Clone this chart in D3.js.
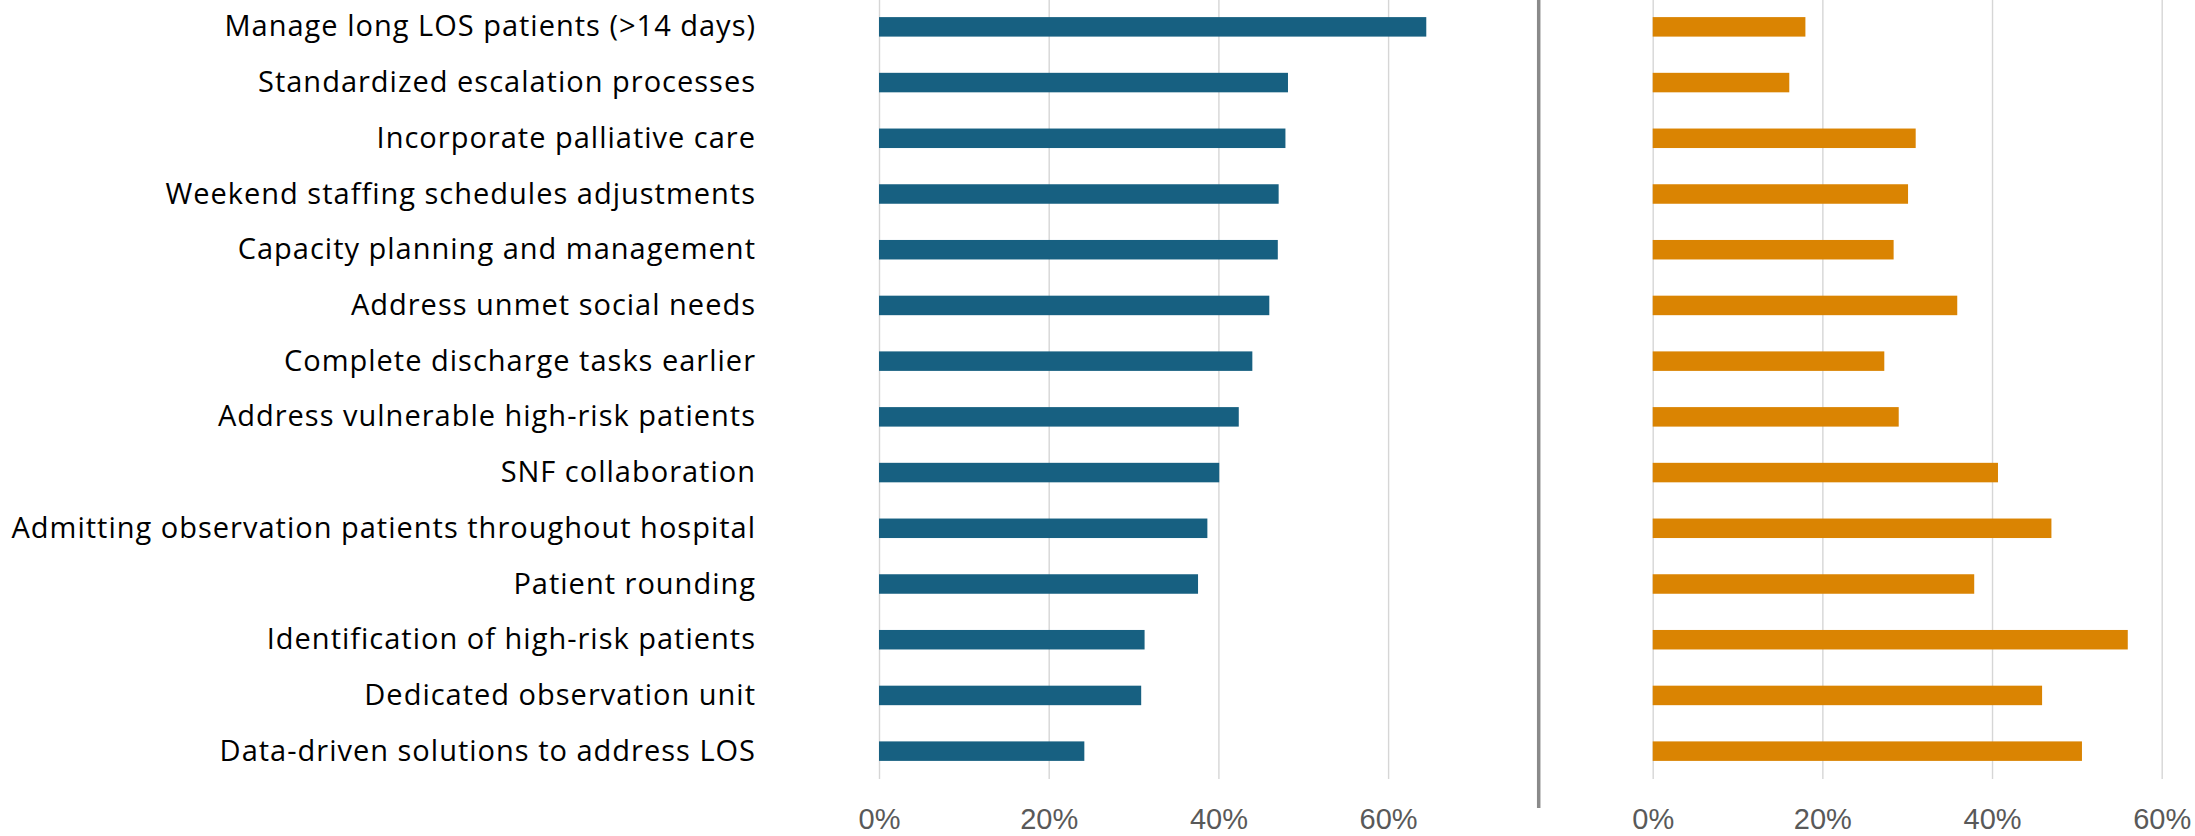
<!DOCTYPE html>
<html>
<head>
<meta charset="utf-8">
<script src="https://cdn.jsdelivr.net/npm/d3@7"></script>
<style>
  html, body { margin: 0; padding: 0; background: #ffffff; }
  svg { display: block; }
</style>
</head>
<body>
<svg id="chart" width="2195" height="836"></svg>
<script>
// Strategies, listed top to bottom
const categories = [
  "Manage long LOS patients (>14 days)",
  "Standardized escalation processes",
  "Incorporate palliative care",
  "Weekend staffing schedules adjustments",
  "Capacity planning and management",
  "Address unmet social needs",
  "Complete discharge tasks earlier",
  "Address vulnerable high-risk patients",
  "SNF collaboration",
  "Admitting observation patients throughout hospital",
  "Patient rounding",
  "Identification of high-risk patients",
  "Dedicated observation unit",
  "Data-driven solutions to address LOS"
];

// Share of respondents (left panel, blue)
const leftValues = [0.645, 0.482, 0.479, 0.471, 0.470, 0.460, 0.440, 0.424, 0.401, 0.387, 0.376, 0.313, 0.309, 0.242];

// Share of respondents (right panel, orange)
const rightValues = [0.180, 0.161, 0.310, 0.301, 0.284, 0.359, 0.273, 0.290, 0.407, 0.470, 0.379, 0.560, 0.459, 0.506];

// Axis ticks shared by both panels
const tickValues = [0, 0.2, 0.4, 0.6];
const tickLabels = ["0%", "20%", "40%", "60%"];

const svg = d3.select("#chart");

const plotTop = -1, plotBottom = 779;

const y = d3.scaleBand()
  .domain(categories)
  .range([plotTop, plotBottom])
  .paddingInner(0.65)
  .paddingOuter(0.325);

const xLeft = d3.scaleLinear().domain([0, 0.7]).range([879, 879 + 0.7 * 848.5]);
const xRight = d3.scaleLinear().domain([0, 0.6]).range([1652.7, 2161.7]);

function panel(x, values, color) {
  const g = svg.append("g");

  // gridlines and percentage labels
  const axis = d3.axisBottom(x)
    .tickValues(tickValues)
    .tickFormat((d, i) => tickLabels[i])
    .tickSizeInner(-(plotBottom - plotTop))
    .tickSizeOuter(0)
    .tickPadding(29.4);

  const ax = g.append("g")
    .attr("transform", `translate(0,${plotBottom})`)
    .call(axis);
  ax.select(".domain").remove();
  ax.selectAll(".tick line")
    .attr("stroke", "#d6d6d6")
    .attr("stroke-width", 1.4);
  ax.selectAll(".tick text")
    .attr("fill", "#595959")
    .attr("font-family", "'Liberation Sans', Arial, sans-serif")
    .attr("font-size", 29);

  // bars
  g.append("g")
    .selectAll("rect")
    .data(values)
    .join("rect")
    .attr("x", x(0))
    .attr("y", (d, i) => y(categories[i]))
    .attr("width", d => x(d) - x(0))
    .attr("height", y.bandwidth())
    .attr("fill", color);
}

panel(xLeft, leftValues, "#176081");
panel(xRight, rightValues, "#da8402");

// separator between the two panels
svg.append("line")
  .attr("x1", 1538.7).attr("x2", 1538.7)
  .attr("y1", 0).attr("y2", 808)
  .attr("stroke", "#8a8a8a")
  .attr("stroke-width", 3.5);

// category labels
svg.append("g")
  .selectAll("text")
  .data(categories)
  .join("text")
  .attr("x", 756)
  .attr("y", d => y(d) + y.bandwidth() / 2 - 2)
  .attr("text-anchor", "end")
  .attr("dominant-baseline", "central")
  .attr("font-family", "'Open Sans', 'Noto Sans', sans-serif")
  .attr("font-size", 29)
  .attr("letter-spacing", "1px")
  .attr("fill", "#000000")
  .text(d => d);
</script>
</body>
</html>
